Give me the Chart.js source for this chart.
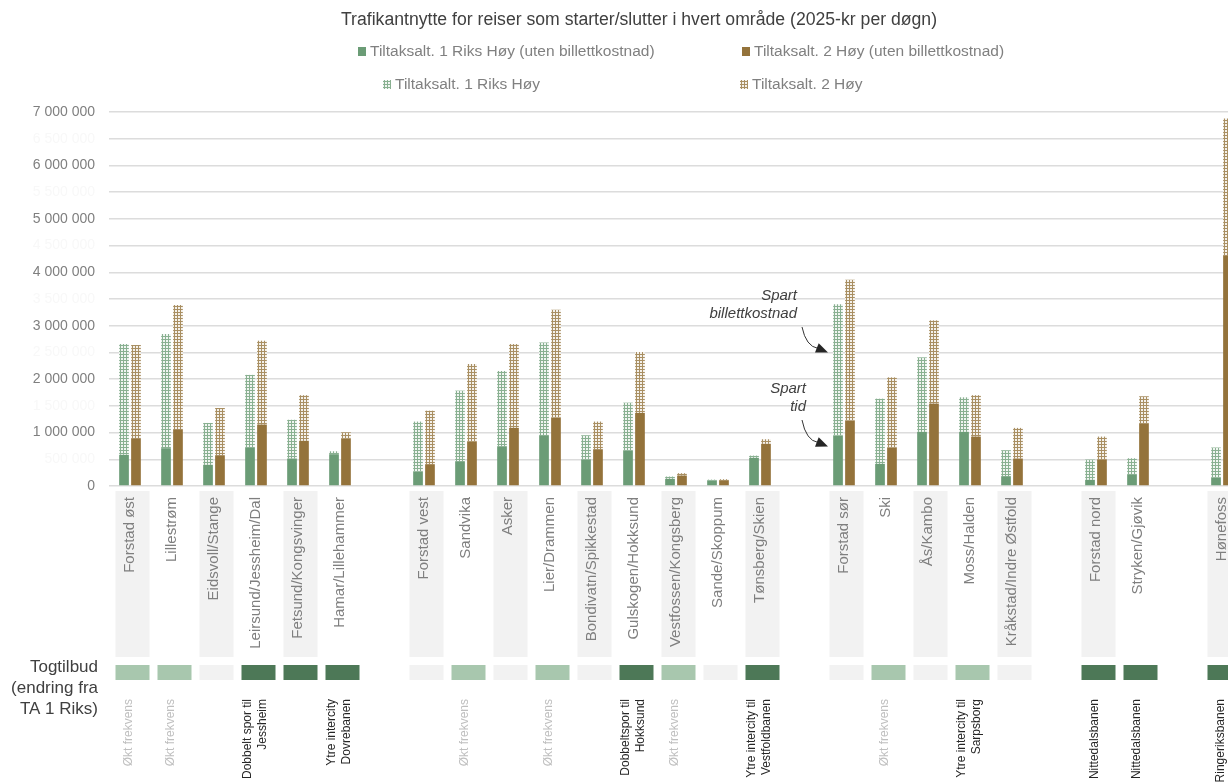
<!DOCTYPE html>
<html>
<head>
<meta charset="utf-8">
<script src="https://cdn.jsdelivr.net/npm/chart.js@4.4.1/dist/chart.umd.min.js"></script>
<style>
  html, body { margin: 0; padding: 0; background: #fff; overflow: hidden; }
  #wrap { width: 1228px; height: 782px; overflow: hidden; }
  canvas { display: block; }
</style>
</head>
<body>
<div id="wrap"><canvas id="chart" width="1270" height="782"></canvas></div>
<script>
const categories = [
  'Forstad øst', 'Lillestrøm', 'Eidsvoll/Stange', 'Leirsund/Jessheim/Dal', 'Fetsund/Kongsvinger', 'Hamar/Lillehammer', '',
  'Forstad vest', 'Sandvika', 'Asker', 'Lier/Drammen', 'Bondivatn/Spikkestad', 'Gulskogen/Hokksund', 'Vestfossen/Kongsberg', 'Sande/Skoppum', 'Tønsberg/Skien', '',
  'Forstad sør', 'Ski', 'Ås/Kambo', 'Moss/Halden', 'Kråkstad/Indre Østfold', '',
  'Forstad nord', 'Stryken/Gjøvik', '',
  'Hønefoss'
];

// benefit without ticket cost (solid) and total benefit (top of the dotted part)
const ta1Time = [583000, 707000, 396000, 725000, 514000, 595000, null, 271000, 464000, 744000, 938000, 495000, 658000, 134000, 103000, 527000, null, 944000, 414000, 1013000, 1013000, 184000, null, 115000, 220000, null, 159000];
const ta1Total = [2660000, 2845000, 1180000, 2080000, 1240000, 650000, null, 1206000, 1785000, 2153000, 2688000, 950000, 1560000, 178000, 120000, 570000, null, 3400000, 1635000, 2408000, 1660000, 670000, null, 495000, 520000, null, 720000];
const ta2Time = [894000, 1050000, 576000, 1150000, 845000, 882000, null, 408000, 826000, 1088000, 1280000, 688000, 1368000, 196000, 108000, 789000, null, 1224000, 720000, 1542000, 925000, 514000, null, 490000, 1174000, null, 4320000];
const ta2Total = [2640000, 3390000, 1460000, 2720000, 1700000, 1006000, null, 1410000, 2284000, 2657000, 3300000, 1206000, 2508000, 240000, 127000, 875000, null, 3860000, 2034000, 3100000, 1700000, 1088000, null, 925000, 1680000, null, 6880000];

// train service change per area: 'dark' = new infrastructure, 'light' = more departures, 'none' = unchanged
const offerLevel = ['light', 'light', 'none', 'dark', 'dark', 'dark', null, 'none', 'light', 'none', 'light', 'none', 'dark', 'light', 'none', 'dark', null, 'none', 'light', 'none', 'light', 'none', null, 'dark', 'dark', null, 'dark'];
const offerText = [
  ['Økt frekvens'], ['Økt frekvens'], [], ['Dobbelt spor til', 'Jessheim'], [], ['Ytre intercity', 'Dovrebanen'], [],
  [], ['Økt frekvens'], [], ['Økt frekvens'], [], ['Dobbeltspor til', 'Hokksund'], ['Økt frekvens'], [], ['Ytre intercity til', 'Vestfoldbanen'], [],
  [], ['Økt frekvens'], [], ['Ytre intercity til', 'Sarpsborg'], [], [],
  ['Nittedalsbanen'], ['Nittedalsbanen'], [],
  ['Ringeriksbanen']
];

const GREEN = '#6b9c76';
const BROWN = '#94733b';
const FONT = '"Liberation Sans", Arial, sans-serif';

function mix(hex, amount) {
  const n = parseInt(hex.slice(1), 16);
  const ch = [(n >> 16) & 255, (n >> 8) & 255, n & 255].map(c => Math.round(c * amount + 255 * (1 - amount)));
  return 'rgb(' + ch.join(',') + ')';
}

function dotPattern(color) {
  const tile = document.createElement('canvas');
  tile.width = 3;
  tile.height = 3;
  const c = tile.getContext('2d');
  c.fillStyle = mix(color, 0.8);
  c.fillRect(0, 0, 3, 3);
  c.fillStyle = mix(color, 0.1);
  c.fillRect(1, 1, 2, 2);
  return c.createPattern(tile, 'repeat');
}

const greenDots = dotPattern(GREEN);
const brownDots = dotPattern(BROWN);

const diff = (total, part) => total.map((v, i) => (v == null ? null : v - part[i]));

function formatNumber(v) {
  return String(v).replace(/\B(?=(\d{3})+(?!\d))/g, ' ');
}

function drawRotated(ctx, lines, x, top, lineHeight) {
  ctx.save();
  ctx.translate(x, top);
  ctx.rotate(-Math.PI / 2);
  ctx.textAlign = 'right';
  ctx.textBaseline = 'middle';
  lines.forEach((line, i) => {
    ctx.fillText(line, 0, (i - (lines.length - 1) / 2) * lineHeight);
  });
  ctx.restore();
}

function drawArrow(ctx, x0, y0, x1, y1) {
  // curved leader that drops down and bends right into the bar
  const bx = x1 - 10;
  const by = y1 - 4;
  ctx.save();
  ctx.strokeStyle = '#333333';
  ctx.fillStyle = '#262626';
  ctx.lineWidth = 1;
  ctx.beginPath();
  ctx.moveTo(x0, y0);
  ctx.quadraticCurveTo(x0 + 4, by - 2, bx, by);
  ctx.stroke();
  const ang = Math.atan2(y1 - by, x1 - bx);
  ctx.beginPath();
  ctx.moveTo(x1, y1);
  ctx.lineTo(x1 - 12 * Math.cos(ang) + 5 * Math.sin(ang), y1 - 12 * Math.sin(ang) - 5 * Math.cos(ang));
  ctx.lineTo(x1 - 12 * Math.cos(ang) - 5 * Math.sin(ang), y1 - 12 * Math.sin(ang) + 5 * Math.cos(ang));
  ctx.closePath();
  ctx.fill();
  ctx.restore();
}

const decorations = {
  id: 'decorations',
  afterDraw(chart) {
    const { ctx, scales: { x, y } } = chart;
    const boxW = 34;
    const boxShift = 2.5;

    // y tick labels: whole millions in grey, half millions barely visible
    ctx.save();
    ctx.font = '14px ' + FONT;
    ctx.textAlign = 'right';
    ctx.textBaseline = 'middle';
    y.ticks.forEach((t, i) => {
      ctx.fillStyle = i % 2 === 0 ? '#7f7f7f' : '#f8f8f8';
      ctx.fillText(formatNumber(t.value), 95, y.getPixelForValue(t.value));
    });
    ctx.restore();

    // title
    ctx.save();
    ctx.fillStyle = '#404040';
    ctx.font = '18px ' + FONT;
    ctx.textBaseline = 'middle';
    const title = 'Trafikantnytte for reiser som starter/slutter i hvert område (2025-kr per døgn)';
    const tw = ctx.measureText(title).width;
    ctx.translate(341, 20);
    ctx.scale(596 / tw, 1);
    ctx.fillText(title, 0, 0);
    ctx.restore();

    // legend
    const legendItems = [
      { text: 'Tiltaksalt. 1 Riks Høy (uten billettkostnad)', fill: GREEN, x: 358, y: 52 },
      { text: 'Tiltaksalt. 2 Høy (uten billettkostnad)', fill: BROWN, x: 742, y: 52 },
      { text: 'Tiltaksalt. 1 Riks Høy', fill: greenDots, x: 383, y: 85 },
      { text: 'Tiltaksalt. 2 Høy', fill: brownDots, x: 740, y: 85 }
    ];
    ctx.save();
    ctx.font = '15.5px ' + FONT;
    ctx.textBaseline = 'middle';
    legendItems.forEach(item => {
      ctx.fillStyle = item.fill;
      ctx.fillRect(item.x, item.y - 5, 8, 9);
      ctx.fillStyle = '#808080';
      ctx.fillText(item.text, item.x + 12, item.y);
    });
    ctx.restore();

    // category label boxes, alternating shading inside each corridor
    let inGroup = 0;
    ctx.save();
    categories.forEach((label, i) => {
      if (!label) {
        inGroup = 0;
        return;
      }
      const cx = x.getPixelForValue(i);
      if (inGroup % 2 === 0) {
        ctx.fillStyle = '#f2f2f2';
        ctx.fillRect(cx - boxW / 2 + boxShift, 491, boxW, 166);
      }
      inGroup++;
      ctx.fillStyle = '#7f7f7f';
      ctx.font = '15px ' + FONT;
      drawRotated(ctx, [label], cx, 497, 16);
    });
    ctx.restore();

    // train service row
    ctx.save();
    ctx.fillStyle = '#404040';
    ctx.font = '17px ' + FONT;
    ctx.textAlign = 'right';
    ctx.textBaseline = 'alphabetic';
    ['Togtilbud', '(endring fra', 'TA 1 Riks)'].forEach((t, i) => ctx.fillText(t, 98, 672 + i * 21));
    const offerColors = { dark: '#4d7857', light: '#a8c7ae', none: '#f2f2f2' };
    offerLevel.forEach((lvl, i) => {
      if (!lvl) return;
      const cx = x.getPixelForValue(i);
      ctx.fillStyle = offerColors[lvl];
      ctx.fillRect(cx - boxW / 2 + boxShift, 665, boxW, 15);
      const lines = offerText[i];
      if (lines.length) {
        ctx.font = '12px ' + FONT;
        ctx.fillStyle = lines[0] === 'Økt frekvens' ? '#bfbfbf' : '#262626';
        drawRotated(ctx, lines, cx - 1, 699, 15);
      }
    });
    ctx.restore();

    // annotations at Forstad sør
    const ax = x.getPixelForValue(categories.indexOf('Forstad sør'));
    const barLeft = ax - 17;
    ctx.save();
    ctx.fillStyle = '#404040';
    ctx.font = 'italic 15px ' + FONT;
    ctx.textAlign = 'right';
    ctx.fillText('Spart', barLeft - 30, 300);
    ctx.fillText('billettkostnad', barLeft - 30, 318);
    ctx.fillText('Spart', barLeft - 21, 393);
    ctx.fillText('tid', barLeft - 21, 411);
    ctx.restore();
    drawArrow(ctx, barLeft - 25, 327, barLeft + 1, y.getPixelForValue(2500000));
    drawArrow(ctx, barLeft - 25, 420, barLeft + 1, y.getPixelForValue(740000));
  }
};

new Chart(document.getElementById('chart'), {
  type: 'bar',
  data: {
    labels: categories,
    datasets: [
      { label: 'Tiltaksalt. 1 Riks Høy (uten billettkostnad)', data: ta1Time, backgroundColor: GREEN, stack: 'ta1' },
      { label: 'Tiltaksalt. 1 Riks Høy', data: diff(ta1Total, ta1Time), backgroundColor: greenDots, stack: 'ta1' },
      { label: 'Tiltaksalt. 2 Høy (uten billettkostnad)', data: ta2Time, backgroundColor: BROWN, stack: 'ta2' },
      { label: 'Tiltaksalt. 2 Høy', data: diff(ta2Total, ta2Time), backgroundColor: brownDots, stack: 'ta2' }
    ]
  },
  options: {
    responsive: false,
    animation: false,
    categoryPercentage: 0.57,
    barPercentage: 0.81,
    layout: {
      padding: { top: 112, right: 27, bottom: 296, left: 0 }
    },
    plugins: {
      legend: { display: false },
      title: { display: false },
      tooltip: { enabled: false }
    },
    scales: {
      x: {
        display: false,
        stacked: true
      },
      y: {
        stacked: true,
        min: 0,
        max: 7000000,
        afterFit: scale => { scale.width = 109; },
        border: { display: false },
        grid: {
          color: '#dcdcdc',
          lineWidth: 1.5,
          drawTicks: false
        },
        ticks: {
          stepSize: 500000,
          display: false
        }
      }
    }
  },
  plugins: [decorations]
});
</script>
</body>
</html>
